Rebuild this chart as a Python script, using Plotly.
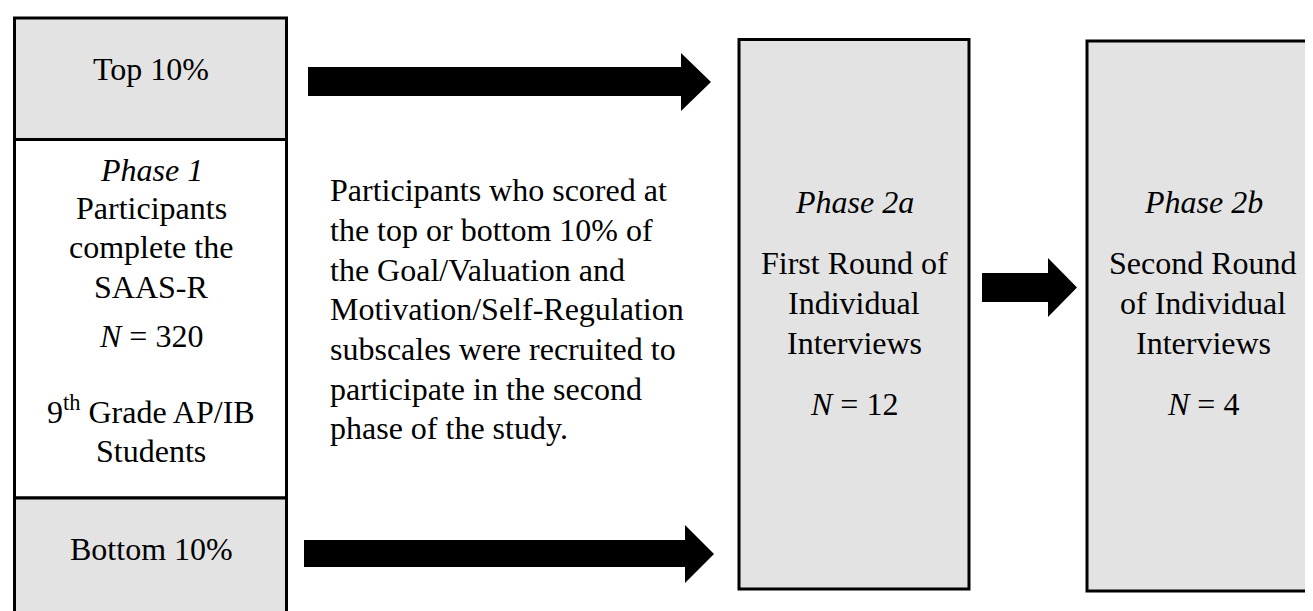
import plotly.graph_objects as go

# ---- text content (data) ----
left_top_label = "Top 10%"
left_mid_lines = ["<i>Phase 1</i>", "Participants", "complete the", "SAAS-R",
                  "<i>N</i> = 320", "9<sup>th</sup> Grade AP/IB", "Students"]
left_bottom_label = "Bottom 10%"
paragraph_lines = ["Participants who scored at",
                   "the top or bottom 10% of",
                   "the Goal/Valuation and",
                   "Motivation/Self-Regulation",
                   "subscales were recruited to",
                   "participate in the second",
                   "phase of the study."]
phase2a_lines = ["<i>Phase 2a</i>", "First Round of", "Individual", "Interviews", "<i>N</i> = 12"]
phase2b_lines = ["<i>Phase 2b</i>", "Second Round", "of Individual", "Interviews", "<i>N</i> = 4"]

# ---- layout / style ----
W, H = 1313, 611
FS = 32
FONT = "Liberation Serif, Times New Roman, serif"
GRAY = "#e3e3e3"
LW = 3

fig = go.Figure()
shapes = []
annotations = []

def rect(x0, y0, x1, y1, fill, lw=LW):
    shapes.append(dict(type="rect", xref="x", yref="y", x0=x0, y0=y0, x1=x1, y1=y1,
                       fillcolor=fill, line=dict(color="black", width=lw), layer="below"))

def arrow(x0, x1, xh, ys0, ys1, yh0, yh1):
    ym = (yh0 + yh1) / 2
    path = (f"M {x0},{ys0} L {x1},{ys0} L {x1},{yh0} L {xh},{ym} L {x1},{yh1} "
            f"L {x1},{ys1} L {x0},{ys1} Z")
    shapes.append(dict(type="path", xref="x", yref="y", path=path,
                       fillcolor="black", line=dict(color="black", width=0)))

def text(s, x, baseline, xanchor="center"):
    annotations.append(dict(text=s, x=x, y=baseline - 0.3375 * FS, xref="x", yref="y",
                            xanchor=xanchor, yanchor="middle", showarrow=False,
                            font=dict(family=FONT, size=FS, color="black")))

# left column
rect(6.5, 10, 278.5, 131.5, GRAY)
rect(6.5, 131.5, 278.5, 490, "white")
rect(6.5, 490, 278.5, 640, GRAY)

# phase 2 boxes
rect(731, 31.5, 961, 581, GRAY)
rect(1079, 33, 1310, 583, GRAY)

# arrows
arrow(300, 673, 703, 59, 88, 45, 103)
arrow(296, 677, 706, 532, 559, 517, 575)
arrow(974, 1040, 1069, 265, 294, 250, 309)

# texts
text(left_top_label, 143, 72)
for s, b in zip(left_mid_lines, [172.5, 210.5, 249.5, 290, 339, 413, 454]):
    text(s, 143, b)
text(left_bottom_label, 143, 552)

for i, s in enumerate(paragraph_lines):
    text(s, 320, 193 + 39.7 * i, xanchor="left")

for s, b in zip(phase2a_lines, [205, 266, 306, 346, 406.5]):
    text(s, 846, b)
for s, b in zip(phase2b_lines, [205, 266, 306, 346, 406.5]):
    text(s, 1195, b)

fig.update_layout(
    width=W, height=H,
    margin=dict(l=0, r=0, t=0, b=0),
    paper_bgcolor="white", plot_bgcolor="white",
    xaxis=dict(range=[0, W], visible=False, fixedrange=True),
    yaxis=dict(range=[H, 0], visible=False, fixedrange=True),
    shapes=shapes, annotations=annotations, showlegend=False,
)

fig.write_html("out.html", config={"displayModeBar": False})
